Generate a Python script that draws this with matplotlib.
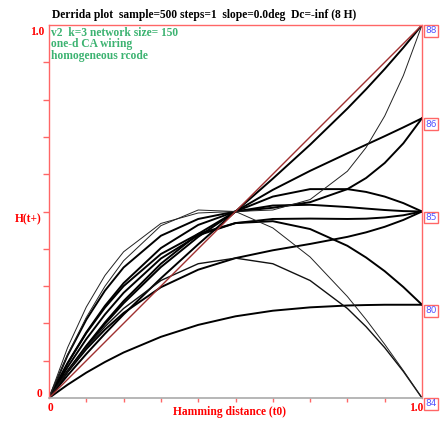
import matplotlib
matplotlib.use("Agg")
import matplotlib.pyplot as plt

# Hamming distance sample points (t0)
h = [0, 0.05, 0.1, 0.15, 0.2, 0.3, 0.4, 0.5, 0.6, 0.7, 0.8, 0.85, 0.9, 0.95, 1.0]

# Derrida curves H(t+)
diag   = [0, 0.05, 0.1, 0.15, 0.2, 0.3, 0.4, 0.5, 0.6, 0.7, 0.8, 0.85, 0.9, 0.95, 1.0]
c_150  = [0, 0.1355, 0.244, 0.3285, 0.392, 0.468, 0.496, 0.5, 0.504, 0.532, 0.608, 0.6715, 0.756, 0.8645, 1.0]
c_top2 = [0, 0.0607, 0.118, 0.1723, 0.224, 0.321, 0.412, 0.5, 0.588, 0.679, 0.776, 0.8277, 0.882, 0.9393, 1.0]
c_86a  = [0, 0.0719, 0.138, 0.1986, 0.254, 0.351, 0.432, 0.5, 0.558, 0.609, 0.656, 0.679, 0.702, 0.7256, 0.75]
c_86b  = [0, 0.1147, 0.21, 0.2878, 0.35, 0.435, 0.48, 0.5, 0.51, 0.525, 0.56, 0.5897, 0.63, 0.6828, 0.75]
c_85a  = [0, 0.0725, 0.14, 0.2025, 0.26, 0.36, 0.44, 0.5, 0.54, 0.56, 0.56, 0.5525, 0.54, 0.5225, 0.5]
c_85b  = [0, 0.0701, 0.131, 0.1834, 0.228, 0.297, 0.344, 0.375, 0.396, 0.413, 0.432, 0.4441, 0.459, 0.4774, 0.5]
c_85c  = [0, 0.0939, 0.176, 0.2471, 0.308, 0.402, 0.464, 0.5, 0.516, 0.518, 0.512, 0.5079, 0.504, 0.5011, 0.5]
c_85d  = [0, 0.0933, 0.174, 0.2424, 0.3, 0.386, 0.44, 0.469, 0.48, 0.481, 0.48, 0.4808, 0.484, 0.4899, 0.5]
c_80a  = [0, 0.0832, 0.158, 0.224, 0.282, 0.374, 0.436, 0.469, 0.474, 0.453, 0.408, 0.3767, 0.34, 0.2975, 0.25]
c_80b  = [0, 0.0357, 0.068, 0.0965, 0.122, 0.164, 0.196, 0.219, 0.234, 0.243, 0.248, 0.2492, 0.25, 0.25, 0.25]
c_84a  = [0, 0.07125, 0.135, 0.19125, 0.24, 0.315, 0.36, 0.375, 0.36, 0.315, 0.24, 0.19125, 0.135, 0.07125, 0]
c_84b  = [0, 0.1164, 0.216, 0.2996, 0.368, 0.462, 0.504, 0.5, 0.456, 0.378, 0.272, 0.2104, 0.144, 0.0736, 0]

thick_curves = [c_top2, c_86a, c_86b, c_85a, c_85b, c_85c, c_85d, c_80a, c_80b]
medium_curves = [c_84a]
thin_curves = [c_150, c_84b]

end_labels = ["88", "86", "85", "80", "84"]
end_values = [1.0, 0.75, 0.5, 0.25, 0.0]

title = "Derrida plot  sample=500 steps=1  slope=0.0deg  Dc=-inf (8 H)"
info = ["v2  k=3 network size= 150", "one-d CA wiring", "homogeneous rcode"]

RED = "#ff0000"
LRED = "#ff6666"
GREEN = "#3cb371"
BLUE = "#5555ff"
SERIF = ["Liberation Serif", "DejaVu Serif"]
FS = 8.3

fig = plt.figure(figsize=(4.47, 4.26), dpi=100)
ax = fig.add_axes([49/447, 28/426, 373/447, 373/426])
ax.set_xlim(0, 1)
ax.set_ylim(0, 1)

for c in thick_curves:
    ax.plot(h, c, color="black", lw=1.4, solid_joinstyle="round")
for c in medium_curves:
    ax.plot(h, c, color="#111111", lw=1.0)
for c in thin_curves:
    ax.plot(h, c, color="#222222", lw=0.7)
ax.plot(h, diag, color="#a03030", lw=1.0)

for s in ["left", "top", "right"]:
    ax.spines[s].set_color(LRED)
    ax.spines[s].set_linewidth(1.0)
ax.spines["bottom"].set_color("#aaaaaa")
ax.spines["bottom"].set_linewidth(1.2)

ticks = [0.1 * i for i in range(1, 10)]
ax.set_xticks(ticks)
ax.set_yticks(ticks)
ax.tick_params(axis="y", direction="out", length=4.3, width=1, color=LRED,
               labelleft=False)
ax.tick_params(axis="x", direction="out", length=3, width=1, color=LRED,
               labelbottom=False)

tf = dict(family=SERIF, weight="bold", color=RED, fontsize=FS)
ax.text(-0.012, 0.981, "1.0", ha="right", va="center", transform=ax.transAxes, **tf)
ax.text(-0.018, 0.011, "0", ha="right", va="center", transform=ax.transAxes, **tf)
ax.text(0.003, -0.027, "0", ha="center", va="center", transform=ax.transAxes, **tf)
ax.text(0.985, -0.027, "1.0", ha="center", va="center", transform=ax.transAxes, **tf)
ax.text(-0.02, 0.48, "H(t+)", ha="right", va="center", transform=ax.transAxes, **tf)
ax.text(0.485, -0.038, "Hamming distance (t0)", ha="center", va="center",
        transform=ax.transAxes, **tf)

fig.text(52/447, 1 - 15/426, title, ha="left", va="center", family=SERIF,
         weight="bold", color="black", fontsize=FS)

for i, line in enumerate(info):
    ax.text(0.006, 0.979 - i * 0.0305, line, ha="left", va="center",
            transform=ax.transAxes, family=SERIF, weight="bold",
            color=GREEN, fontsize=FS)

for lab, v in zip(end_labels, end_values):
    ax.text(1.008, v - 0.004, lab, ha="left", va="top", transform=ax.transAxes,
            fontsize=6.5, color=BLUE, family="DejaVu Sans", clip_on=False,
            bbox=dict(boxstyle="square,pad=0.15", fc="white", ec=LRED, lw=1.0))

fig.savefig("out.png", dpi=100)
